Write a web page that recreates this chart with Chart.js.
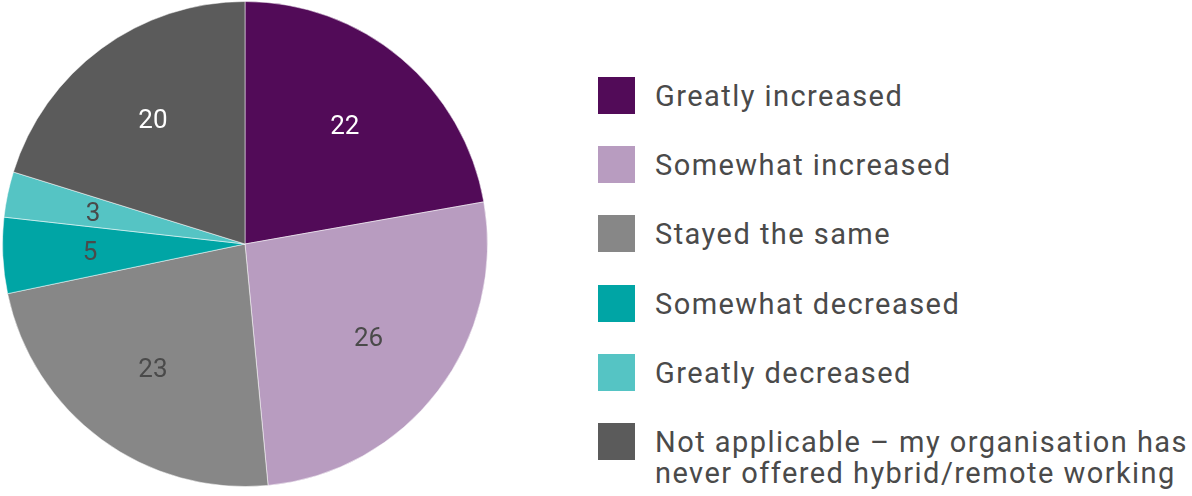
<!DOCTYPE html>
<html>
<head>
<meta charset="utf-8">
<script src="https://cdn.jsdelivr.net/npm/chart.js@4/dist/chart.umd.min.js"></script>
<style>
  html, body { margin: 0; padding: 0; background: #fff; }
  body { width: 1192px; height: 496px; position: relative; overflow: hidden; font-family: Roboto, sans-serif; }
  #pieBox { position: absolute; left: 2px; top: 1px; width: 486px; height: 486px; }
  #legend { position: absolute; left: 598px; top: 77px; }
  .item { position: absolute; left: 0; white-space: nowrap; }
  .swatch { position: absolute; left: 0; top: 0; width: 37px; height: 37px; }
  .text { position: absolute; left: 57px; top: 4px; font-size: 29px; line-height: 31px; letter-spacing: 1.45px; color: #4a4a4a; }
</style>
</head>
<body>
<div id="pieBox"><canvas id="pieChart"></canvas></div>
<div id="legend"></div>
<script>
const categories = [
  "Greatly increased",
  "Somewhat increased",
  "Stayed the same",
  "Somewhat decreased",
  "Greatly decreased",
  "Not applicable – my organisation has\nnever offered hybrid/remote working"
];
const values = [22, 26, 23, 5, 3, 20];
const sliceColors = ["#520b58", "#b89cc0", "#878787", "#00a5a5", "#55c4c4", "#5b5b5b"];
const labelColors = ["#ffffff", "#4a4a4a", "#4a4a4a", "#4a4a4a", "#4a4a4a", "#ffffff"];

// legend on the right, one row per category
const legend = document.getElementById("legend");
categories.forEach((name, i) => {
  const item = document.createElement("div");
  item.className = "item";
  item.style.top = (i * 69.2) + "px";
  const sw = document.createElement("div");
  sw.className = "swatch";
  sw.style.background = sliceColors[i];
  const tx = document.createElement("div");
  tx.className = "text";
  tx.innerHTML = name.split("\n").join("<br>");
  item.appendChild(sw);
  item.appendChild(tx);
  legend.appendChild(item);
});

// value printed inside each slice
const sliceValues = {
  id: "sliceValues",
  afterDatasetsDraw(chart) {
    const ctx = chart.ctx;
    const meta = chart.getDatasetMeta(0);
    ctx.save();
    ctx.font = "26px Roboto";
    ctx.textAlign = "center";
    ctx.textBaseline = "middle";
    meta.data.forEach((arc, i) => {
      const p = arc.getProps(["x", "y", "startAngle", "endAngle", "outerRadius"], true);
      const mid = (p.startAngle + p.endAngle) / 2;
      const r = p.outerRadius * 0.64;
      ctx.fillStyle = labelColors[i];
      ctx.fillText(String(values[i]), p.x + Math.cos(mid) * r, p.y + Math.sin(mid) * r + 2);
    });
    ctx.restore();
  }
};

new Chart(document.getElementById("pieChart"), {
  type: "pie",
  data: {
    labels: categories,
    datasets: [{
      data: values,
      backgroundColor: sliceColors,
      borderColor: "rgba(255,255,255,0.5)",
      borderWidth: 1
    }]
  },
  options: {
    responsive: true,
    maintainAspectRatio: false,
    animation: false,
    layout: { padding: 0 },
    plugins: {
      legend: { display: false },
      tooltip: { enabled: false }
    }
  },
  plugins: [sliceValues]
});
</script>
</body>
</html>
